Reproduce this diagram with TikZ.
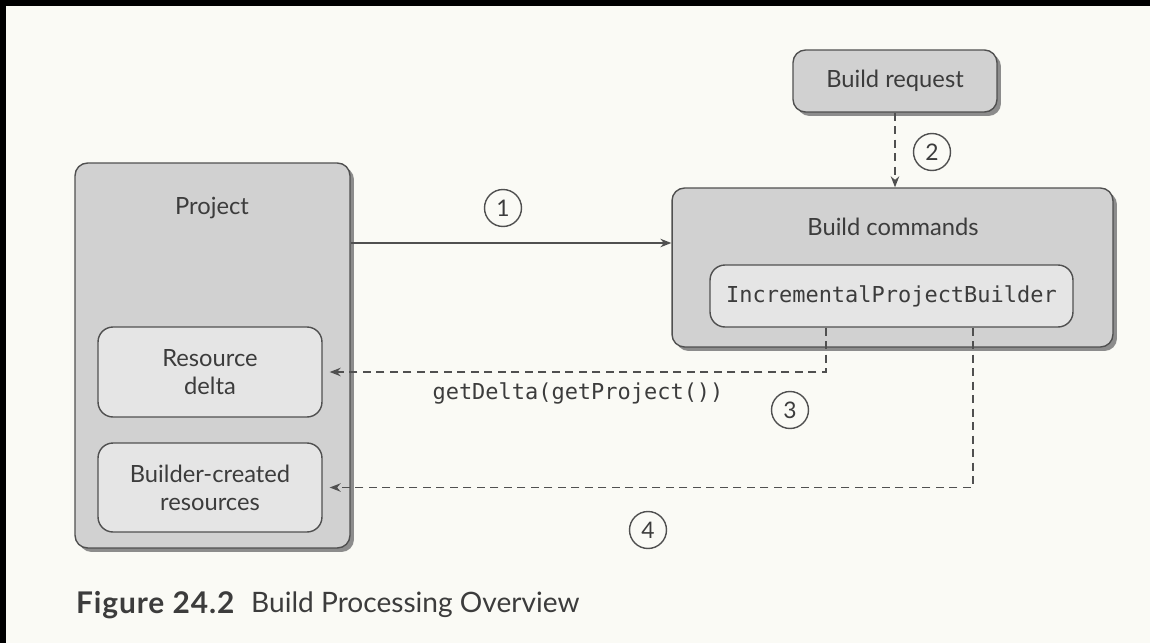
\documentclass[tikz,border=0pt]{standalone}
\usepackage{fontspec}
\setmainfont{Lato}
\setmonofont{DejaVu Sans Mono}
\usetikzlibrary{shadows,arrows.meta}
\definecolor{fond}{RGB}{250,250,245}
\definecolor{trait}{RGB}{80,80,80}
\definecolor{encre}{RGB}{60,60,60}
\begin{document}
\begin{tikzpicture}[x=0.02cm,y=-0.02cm,
	boite/.style={draw=trait,fill=black!18,line width=0.8pt,rounded corners=0.25cm,
		drop shadow={shadow xshift=0.8mm,shadow yshift=-0.8mm,fill=black!45,opacity=1}},
	sousboite/.style={draw=trait,fill=black!10,line width=0.8pt,rounded corners=0.3cm,align=center,
		font=\fontsize{13.5}{16}\selectfont,text=encre},
	texte/.style={font=\fontsize{13.5}{16}\selectfont,text=encre},
	code/.style={font=\ttfamily\fontsize{12.5}{15}\selectfont,text=encre},
	etape/.style={circle,draw=trait,fill=fond,line width=0.8pt,minimum size=0.74cm,inner sep=0pt,
		font=\fontsize{13}{15}\selectfont,text=encre},
	fleche/.style={draw=trait,line width=0.8pt,-{Stealth[length=2.2mm,width=1.7mm]}},
	pointille/.style={fleche,dash pattern=on 1.6mm off 1.1mm}]
	% Fond et cadre de la page
	\useasboundingbox (0,0) rectangle (1150,643);
	\fill[fond] (0,0) rectangle (1150,643);
	\fill[black] (0,0) rectangle (1150,6);
	\fill[black] (0,0) rectangle (6,643);
	%
	% Projet et ses ressources
	\node[boite,minimum width=5.5cm,minimum height=7.7cm] (project) at (212.5,355.5) {};
	\node[texte] (lblproject) at (212,208) {Project};
	\node[sousboite,minimum width=4.48cm,minimum height=1.8cm] (delta) at (210,372) {Resource\\delta};
	\node[sousboite,minimum width=4.48cm,minimum height=1.78cm] (created) at (210,487.5) {Builder-created\\resources};
	%
	% Demande de construction et commandes
	\node[boite,minimum width=4.08cm,minimum height=1.24cm,texte] (request) at (895,81) {Build request};
	\node[boite,minimum width=8.82cm,minimum height=3.18cm] (cmd) at (892.5,267.5) {};
	\node[texte] (lblcmd) at (893,227) {Build commands};
	\node[sousboite,minimum width=7.26cm,minimum height=1.24cm,font=\ttfamily\fontsize{12.5}{15}\selectfont] (ipb) at (891.5,296) {IncrementalProjectBuilder};
	%
	% Liaisons
	\draw[fleche] (project.east |- 0,243) -- (cmd.west |- 0,243);
	\draw[pointille] (request.south) -- (request.south |- cmd.north);
	\draw[pointille,shorten >=4pt] (ipb.south -| 826,0) |- (delta.east);
	\draw[pointille,shorten >=4pt] (ipb.south -| 973,0) |- (created.east);
	\node[code] (appel) at (578,393) {getDelta(getProject())};
	%
	% Numeros des etapes
	\node[etape] (e1) at (503,208) {1};
	\node[etape] (e2) at (932,152) {2};
	\node[etape] (e3) at (790,410) {3};
	\node[etape] (e4) at (648,530) {4};
	%
	% Legende
	\node[anchor=west,font=\bfseries\fontsize{17}{20}\selectfont\addfontfeature{LetterSpace=3},text=encre] (fignum) at (70,605) {Figure 24.2};
	\node[anchor=west,font=\fontsize{16}{19}\selectfont,text=encre] (figtitre) at (245,605) {Build Processing Overview};
\end{tikzpicture}
\end{document}
